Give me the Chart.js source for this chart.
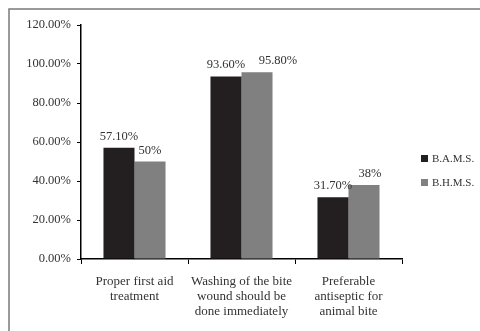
<!DOCTYPE html>
<html>
<head>
<meta charset="utf-8">
<script src="https://cdn.jsdelivr.net/npm/chart.js@4"></script>
<style>
  html, body { margin: 0; padding: 0; background: #fff; }
  #wrap { width: 480px; height: 331px; }
</style>
</head>
<body>
<div id="wrap"><canvas id="bar_chart" width="480" height="331"></canvas></div>
<script>
// data
var categories = [
  ["Proper first aid", "treatment"],
  ["Washing of the bite", "wound should be", "done immediately"],
  ["Preferable", "antiseptic for", "animal bite"]
];
var bamsValues = [57.1, 93.6, 31.7];
var bhmsValues = [50, 95.8, 38];
var bamsLabels = ["57.10%", "93.60%", "31.70%"];
var bhmsLabels = ["50%", "95.80%", "38%"];
var seriesNames = ["B.A.M.S.", "B.H.M.S."];

var serif = "'Liberation Serif', 'DejaVu Serif', serif";
var textColor = '#333';

// frame line at top and left like the scanned figure
var framePlugin = {
  id: 'frame',
  beforeDraw: function (chart) {
    var c = chart.ctx;
    c.save();
    c.strokeStyle = '#7a7a7a';
    c.lineWidth = 1.5;
    c.beginPath();
    c.moveTo(9, 331);
    c.lineTo(9, 9);
    c.lineTo(480, 9);
    c.stroke();
    c.restore();
  }
};

// value labels above bars
var valueLabels = {
  id: 'valueLabels',
  afterDatasetsDraw: function (chart, args, opts) {
    var c = chart.ctx;
    var texts = [bamsLabels, bhmsLabels];
    var shift = opts.shift || [[], []];
    c.save();
    c.font = '12.5px ' + serif;
    c.fillStyle = textColor;
    c.textAlign = 'center';
    c.textBaseline = 'alphabetic';
    chart.data.datasets.forEach(function (ds, i) {
      chart.getDatasetMeta(i).data.forEach(function (bar, j) {
        var dx = shift[i][j] || 0;
        c.fillText(texts[i][j], bar.x + dx, bar.y - 8);
      });
    });
    c.restore();
  }
};

// legend drawn on the right, as in the figure
var sideLegend = {
  id: 'sideLegend',
  afterDraw: function (chart) {
    var c = chart.ctx;
    c.save();
    c.font = '11px ' + serif;
    c.textBaseline = 'middle';
    chart.data.datasets.forEach(function (ds, i) {
      var y = 159 + i * 24;
      c.fillStyle = ds.backgroundColor;
      c.fillRect(421, y - 4, 7, 7);
      c.fillStyle = textColor;
      c.fillText(ds.label, 432, y);
    });
    c.restore();
  }
};

var ctxBar = document.getElementById('bar_chart').getContext('2d');
var chart = new Chart(ctxBar, {
  type: 'bar',
  data: {
    labels: categories,
    datasets: [{
      label: seriesNames[0],
      backgroundColor: '#231f20',
      data: bamsValues,
      barPercentage: 1.0,
      categoryPercentage: 0.58
    }, {
      label: seriesNames[1],
      backgroundColor: '#808080',
      data: bhmsValues,
      barPercentage: 1.0,
      categoryPercentage: 0.58
    }]
  },
  options: {
    responsive: false,
    animation: false,
    layout: { padding: { left: 0, right: 78, top: 25, bottom: 0 } },
    plugins: {
      legend: { display: false },
      tooltip: { enabled: false },
      // nudge labels that would collide, like in the original figure
      valueLabels: { shift: [[0, 0, 0], [0, 21, 6]] }
    },
    scales: {
      x: {
        grid: { display: true, drawOnChartArea: false, drawTicks: true, tickLength: 5, color: '#000', offset: true },
        border: { color: '#000', width: 1.5 },
        ticks: {
          color: textColor,
          font: { family: serif, size: 13, lineHeight: 1.15 },
          padding: 10,
          maxRotation: 0
        },
        afterFit: function (s) { s.height = 72; }
      },
      y: {
        min: 0,
        max: 120,
        grid: { display: true, drawOnChartArea: false, drawTicks: true, tickLength: 4, color: '#000' },
        border: { color: '#000', width: 1.5 },
        ticks: {
          stepSize: 20,
          color: textColor,
          font: { family: serif, size: 12.5 },
          padding: 6,
          callback: function (v) { return v.toFixed(2) + '%'; }
        },
        afterFit: function (s) { s.width = 81; }
      }
    }
  },
  plugins: [framePlugin, valueLabels, sideLegend]
});
</script>
</body>
</html>
